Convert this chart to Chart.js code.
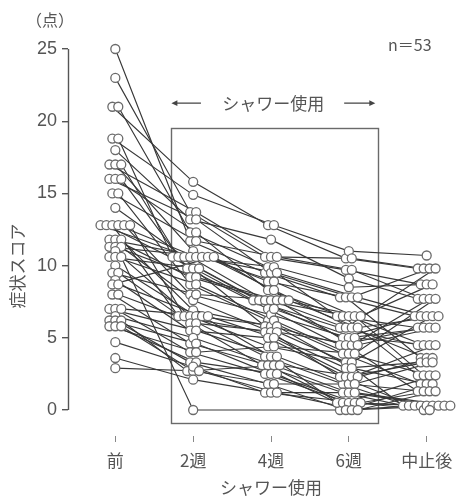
<!DOCTYPE html>
<html><head><meta charset="utf-8">
<script src="https://cdn.jsdelivr.net/npm/chart.js@4/dist/chart.umd.min.js"></script>
<style>html,body{margin:0;padding:0;background:#fff}#wrap{width:464px;height:499px;position:relative}</style>
</head><body><div id="wrap"><canvas id="c" width="464" height="499"></canvas></div>
<script>
// ---- data (one entry per subject, n = 53) ----
const timeLabels = ['前', '2週', '4週', '6週', '中止後'];
const yTicks = [0, 5, 10, 15, 20, 25];
const pre = [25, 23, 21, 21, 18.8, 18.8, 18, 17, 17, 17, 16, 16, 16, 15, 15, 14, 12.8, 12.8, 12.8, 12.8, 12.8, 12.8, 11.8, 11.8, 11.8, 11.3, 11.3, 11.3, 11, 10.6, 10.6, 10.6, 10, 9.5, 9.5, 9, 8.7, 8.7, 8, 8, 7, 7, 7, 6.5, 6.2, 6.2, 6.2, 5.8, 5.8, 5.8, 4.7, 3.6, 2.9];
const week2 = [11.7, 13.7, 15.8, 12.3, 14.9, 10.6, 13.2, 13.7, 11, 10.6, 13.2, 12.3, 9.8, 11.7, 8.7, 10.6, 10.6, 9.8, 6.5, 10.6, 8, 6.5, 10.6, 9.2, 6.9, 10.6, 9.2, 7.6, 6.5, 9.8, 8.7, 0, 6.5, 8, 6.0, 5.5, 10.6, 6.5, 4.6, 6.0, 5.5, 4.0, 6.5, 5, 4.6, 3.3, 2.7, 4.0, 3.3, 2.7, 3, 2.1, 2.7];
const week4 = [9.5, 10.6, 12.8, 9.9, 12.8, 7.6, 11.8, 10.6, 8.9, 7.6, 9.5, 8.3, 7, 10.6, 6.2, 9.9, 7.6, 5.8, 5.4, 9.5, 6.6, 3.7, 8.9, 7.6, 5.8, 8.3, 7.6, 5.4, 4.4, 7, 6.2, null, 5.8, 7.6, 3.1, 5, 7.6, 3.7, 3.1, 5.4, 3.7, 2.5, 5, 3.1, 2.5, 1.8, 3.1, 4.4, 2.5, 1.8, 1.2, 1.2, 1.2];
const week6 = [7.8, 9.7, 10.5, 6.5, 11, 5.7, 9.1, 10.5, 7.8, 5, 7.8, 6.5, 4.5, 9.7, 3.9, 8.5, 6.5, 3.3, 2.9, 7.8, 5, 1.8, 6.5, 5.7, 4.5, 5.7, 4.5, 2.3, 3.3, 5, 3.9, 0, 2.9, 6.5, 1.2, 2.3, 5.7, 0.5, 0.5, 4.5, 1.8, 0.5, 2.3, 1.2, 0.5, 0, 2.3, 3.9, 0, 1.8, 0.5, 1.2, 0];
const afterStop = [6.5, 8.7, 9.8, 5.7, 10.7, 4.5, 7.7, 9.8, 3.6, 6.5, 9.8, 2.4, 5.7, 7.7, 1.8, 8.7, 4.5, 0.3, 3.3, 6.5, 5.7, 0.3, 2.4, 9.8, 1.3, 3.6, 7.7, 0.3, 6.5, 4.5, 2.4, 0.3, 1.8, 8.7, 0, 3.3, 6.5, 0.3, 2.4, 5.7, 1.3, 0.3, 4.5, 0.3, 0, 1.8, 3.6, 7.7, 0.3, 3.3, 1.3, 0.3, 1.3];
const sampleLabel = 'n＝53';
const unitLabel = '（点）';
const yTitle = '症状スコア';
const xTitle = 'シャワー使用';
const periodLabel = 'シャワー使用';

// ---- build point positions (equal values stacked side by side) ----
const columns = [pre, week2, week4, week6, afterStop];
const STEP = 0.076;
const xPos = columns.map((col, ci) => {
  const groups = {};
  col.forEach((v, i) => { if (v == null) return; (groups[v] = groups[v] || []).push(i); });
  const xs = new Array(col.length).fill(null);
  Object.values(groups).forEach(idx => idx.forEach((i, k) => { xs[i] = ci + (k - (idx.length - 1) / 2) * STEP; }));
  return xs;
});

const lineSets = pre.map((_, s) => ({
  type: 'scatter',
  showLine: true,
  order: 2,
  data: columns.map((col, ci) => col[s] == null ? null : { x: xPos[ci][s], y: col[s] }).filter(p => p),
  borderColor: '#383838',
  borderWidth: 1.15,
  pointRadius: 0,
  pointHoverRadius: 0,
  clip: false
}));
const allPoints = [];
columns.forEach((col, ci) => col.forEach((v, s) => { if (v != null) allPoints.push({ x: xPos[ci][s], y: v }); }));
const pointSet = {
  type: 'scatter', order: 0, data: allPoints, showLine: false,
  pointRadius: 4.5, pointBorderWidth: 1.3,
  pointBackgroundColor: '#ffffff', pointBorderColor: '#6a6a6a', clip: false
};

const FONT = '"Noto Sans CJK JP", "Noto Sans", sans-serif';
const GRAY = '#555';

const deco = {
  id: 'deco',
  beforeDatasetsDraw(chart) {
    const { ctx } = chart; const xs = chart.scales.x, ys = chart.scales.y;
    // shower period box
    ctx.save();
    ctx.strokeStyle = '#6a6a6a'; ctx.lineWidth = 1.4;
    const x1 = xs.getPixelForValue(1 - 0.29), x2 = xs.getPixelForValue(3 + 0.37);
    const y1 = ys.getPixelForValue(19.5), y2 = ys.getPixelForValue(-0.95);
    ctx.strokeRect(Math.round(x1) + 0.5, Math.round(y1) + 0.5, Math.round(x2 - x1), Math.round(y2 - y1));
    ctx.restore();
  },
  afterDraw(chart) {
    const { ctx, chartArea } = chart; const xs = chart.scales.x, ys = chart.scales.y;
    ctx.save();
    // y axis line from 0 to 25
    ctx.strokeStyle = '#555'; ctx.lineWidth = 1.4;
    ctx.beginPath();
    ctx.moveTo(chartArea.left + 0.5, ys.getPixelForValue(25));
    ctx.lineTo(chartArea.left + 0.5, ys.getPixelForValue(0));
    ctx.stroke();
    // texts
    ctx.fillStyle = GRAY; ctx.textBaseline = 'middle';
    ctx.font = '16px ' + FONT; ctx.textAlign = 'center';
    ctx.fillText(unitLabel, 50, 20);
    ctx.textAlign = 'left';
    ctx.font = '16px ' + FONT;
    ctx.fillText(sampleLabel, 388, 45);
    // period arrows + label
    const ay = ys.getPixelForValue(21.25);
    const ax1 = xs.getPixelForValue(0.72), ax2 = xs.getPixelForValue(1.1);
    const bx1 = xs.getPixelForValue(2.94), bx2 = xs.getPixelForValue(3.34);
    ctx.strokeStyle = '#444'; ctx.fillStyle = '#444'; ctx.lineWidth = 1.3;
    ctx.beginPath(); ctx.moveTo(ax1 + 4, ay); ctx.lineTo(ax2, ay); ctx.moveTo(bx1, ay); ctx.lineTo(bx2 - 4, ay); ctx.stroke();
    ctx.beginPath(); ctx.moveTo(ax1, ay); ctx.lineTo(ax1 + 6, ay - 2.8); ctx.lineTo(ax1 + 6, ay + 2.8); ctx.closePath(); ctx.fill();
    ctx.beginPath(); ctx.moveTo(bx2, ay); ctx.lineTo(bx2 - 6, ay - 2.8); ctx.lineTo(bx2 - 6, ay + 2.8); ctx.closePath(); ctx.fill();
    ctx.fillStyle = GRAY; ctx.font = '17px ' + FONT; ctx.textAlign = 'center';
    ctx.fillText(periodLabel, xs.getPixelForValue(2.03), ay);
    // axis titles
    ctx.fillText(xTitle, xs.getPixelForValue(2.0), 488);
    ctx.translate(18, 266); ctx.rotate(-Math.PI / 2);
    ctx.fillText(yTitle, 0, 0);
    ctx.restore();
  }
};

new Chart(document.getElementById('c'), {
  type: 'scatter',
  data: { datasets: [pointSet, ...lineSets] },
  options: {
    responsive: false, animation: false, devicePixelRatio: 1,
    layout: { padding: { top: 49, left: 0, right: 0, bottom: 0 } },
    plugins: { legend: { display: false }, tooltip: { enabled: false } },
    scales: {
      x: {
        type: 'linear', min: -0.608, max: 4.405,
        afterBuildTicks: s => { s.ticks = timeLabels.map((_, i) => ({ value: i })); },
        afterFit: s => { s.height = 63; },
        border: { display: false },
        grid: { drawOnChartArea: false, drawTicks: true, tickLength: 6, color: '#888', lineWidth: 1 },
        ticks: { padding: 8, color: GRAY, font: { family: FONT, size: 17 }, callback: v => timeLabels[v], maxRotation: 0, autoSkip: false }
      },
      y: {
        min: -1.8, max: 25,
        afterBuildTicks: s => { s.ticks = yTicks.map(v => ({ value: v })); },
        afterFit: s => { s.width = 68; },
        border: { display: false },
        grid: { drawOnChartArea: false, drawTicks: true, tickLength: 6, color: '#555', lineWidth: 1.4 },
        ticks: { padding: 5, color: GRAY, font: { family: '"Liberation Sans", Arial, sans-serif', size: 18 } }
      }
    }
  },
  plugins: [deco]
});
</script>
</body></html>
